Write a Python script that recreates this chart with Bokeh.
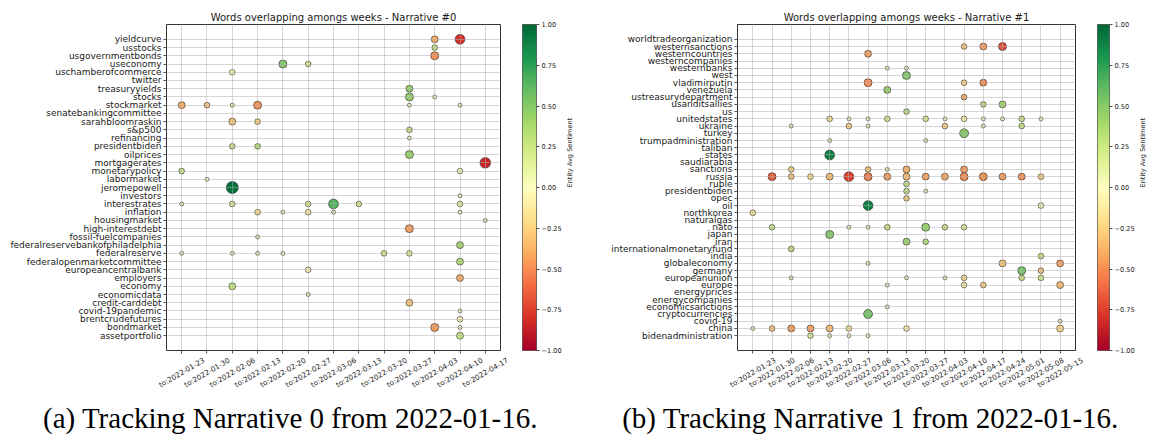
import math
import numpy as np
from bokeh.plotting import figure
from bokeh.layouts import column, row
from bokeh.models import (Range1d, FixedTicker, LinearColorMapper, CustomJSTickFormatter,
                          ColumnDataSource, Label)
from bokeh.transform import transform
from bokeh.core.properties import value
from bokeh.embed import file_html
from bokeh.resources import INLINE

# ---------------- data: narrative 0 ----------------
weeks_a = ["01-23", "01-30", "02-06", "02-13", "02-20", "02-27", "03-06",
           "03-13", "03-20", "03-27", "04-03", "04-10", "04-17"]
words_a = ["assetportfolio", "bondmarket", "brentcrudefutures", "covid-19pandemic",
           "credit-carddebt", "economicdata", "economy", "employers",
           "europeancentralbank", "federalopenmarketcommittee", "federalreserve",
           "federalreservebankofphiladelphia", "fossil-fuelcompanies", "high-interestdebt",
           "housingmarket", "inflation", "interestrates", "investors", "jeromepowell",
           "labormarket", "monetarypolicy", "mortgagerates", "oilprices", "presidentbiden",
           "refinancing", "s&p500", "sarahbloomraskin", "senatebankingcommittee",
           "stockmarket", "stocks", "treasuryyields", "twitter", "uschamberofcommerce",
           "useconomy", "usgovernmentbonds", "usstocks", "yieldcurve"]

a_word = ["yieldcurve", "yieldcurve", "usstocks", "usgovernmentbonds", "useconomy", "useconomy",
          "uschamberofcommerce", "treasuryyields", "stocks", "stocks",
          "stockmarket", "stockmarket", "stockmarket", "stockmarket", "stockmarket", "stockmarket",
          "sarahbloomraskin", "sarahbloomraskin", "s&p500", "refinancing",
          "presidentbiden", "presidentbiden", "oilprices", "mortgagerates",
          "monetarypolicy", "monetarypolicy", "labormarket", "jeromepowell", "investors",
          "interestrates", "interestrates", "interestrates", "interestrates", "interestrates", "interestrates",
          "inflation", "inflation", "inflation", "inflation", "inflation",
          "housingmarket", "high-interestdebt", "fossil-fuelcompanies",
          "federalreservebankofphiladelphia",
          "federalreserve", "federalreserve", "federalreserve", "federalreserve", "federalreserve", "federalreserve",
          "federalopenmarketcommittee", "europeancentralbank", "employers", "economy", "economicdata",
          "credit-carddebt", "covid-19pandemic", "brentcrudefutures", "bondmarket", "bondmarket",
          "assetportfolio"]
a_week = ["04-03", "04-10", "04-03", "04-03", "02-20", "02-27",
          "02-06", "03-27", "03-27", "04-03",
          "01-23", "01-30", "02-06", "02-13", "03-27", "04-10",
          "02-06", "02-13", "03-27", "03-27",
          "02-06", "02-13", "03-27", "04-17",
          "01-23", "04-10", "01-30", "02-06", "04-10",
          "01-23", "02-06", "02-27", "03-06", "03-13", "04-10",
          "02-13", "02-20", "02-27", "03-06", "04-10",
          "04-17", "03-27", "02-13",
          "04-10",
          "01-23", "02-06", "02-13", "02-20", "03-20", "03-27",
          "04-10", "02-27", "04-10", "02-06", "02-27",
          "03-27", "04-10", "04-10", "04-03", "04-10",
          "04-10"]
a_sent = [-0.40, -0.80, 0.25, -0.50, 0.50, 0.22,
          -0.05, 0.45, 0.45, 0.00,
          -0.40, -0.30, 0.05, -0.50, 0.00, 0.00,
          -0.30, -0.25, 0.25, 0.00,
          0.25, 0.30, 0.45, -0.85,
          0.25, 0.05, 0.00, 0.95, 0.00,
          0.05, 0.20, 0.20, 0.65, 0.20, 0.10,
          -0.20, 0.00, -0.10, 0.00, 0.00,
          0.00, -0.45, 0.00,
          0.40,
          0.00, 0.00, 0.00, 0.00, 0.20, 0.15,
          0.35, -0.05, -0.40, 0.30, 0.00,
          -0.30, 0.00, -0.05, -0.45, 0.00,
          0.25]
a_count = [3, 6, 2, 4, 4, 2,
           2, 3, 4, 1,
           3, 2, 1, 4, 1, 1,
           3, 2, 2, 1,
           2, 2, 4, 7,
           2, 2, 1, 9, 1,
           1, 2, 2, 6, 2, 2,
           2, 1, 2, 1, 1,
           1, 4, 1,
           3,
           1, 1, 1, 1, 2, 2,
           3, 2, 3, 3, 1,
           3, 1, 2, 4, 1,
           3]

# ---------------- data: narrative 1 ----------------
weeks_b = ["01-23", "01-30", "02-06", "02-13", "02-20", "02-27", "03-06", "03-13", "03-20",
           "03-27", "04-03", "04-10", "04-17", "04-24", "05-01", "05-08", "05-15"]
words_b = ["bidenadministration", "china", "covid-19", "cryptocurrencies", "economicsanctions",
           "energycompanies", "energyprices", "europe", "europeanunion", "germany",
           "globaleconomy", "india", "internationalmonetaryfund", "iran", "japan", "nato",
           "naturalgas", "northkorea", "oil", "opec", "presidentbiden", "ruble", "russia",
           "sanctions", "saudiarabia", "states", "taliban", "trumpadministration", "turkey",
           "ukraine", "unitedstates", "us", "usanditsallies", "ustreasurydepartment",
           "venezuela", "vladimirputin", "west", "westernbanks", "westerncompanies",
           "westerncountries", "westernsanctions", "worldtradeorganization"]

b_word = (["westernsanctions"] * 3 + ["westerncountries"] + ["westernbanks"] * 2 + ["west"]
          + ["vladimirputin"] * 3 + ["venezuela", "ustreasurydepartment"] + ["usanditsallies"] * 2
          + ["us"] + ["unitedstates"] * 11 + ["ukraine"] * 6 + ["turkey"]
          + ["trumpadministration"] * 2 + ["states"] + ["sanctions"] * 5 + ["russia"] * 15
          + ["ruble"] + ["presidentbiden"] * 2 + ["opec"] + ["oil"] * 2 + ["northkorea"]
          + ["nato"] * 7 + ["japan"] + ["iran"] * 2 + ["internationalmonetaryfund", "india"]
          + ["globaleconomy"] * 3 + ["germany"] * 2 + ["europeanunion"] * 6 + ["europe"] * 4
          + ["economicsanctions", "cryptocurrencies", "covid-19"] + ["china"] * 8
          + ["bidenadministration"] * 4)
b_week = ["04-10", "04-17", "04-24", "03-06", "03-13", "03-20", "03-20",
          "03-06", "04-10", "04-17", "03-13", "04-10", "04-17", "04-24",
          "03-20",
          "02-20", "02-27", "03-06", "03-13", "03-27", "04-03", "04-10", "04-17", "04-24", "05-01", "05-08",
          "02-06", "02-27", "03-06", "04-03", "04-17", "05-01",
          "04-10",
          "02-20", "03-27",
          "02-20",
          "02-06", "03-06", "03-13", "03-20", "04-10",
          "01-30", "02-06", "02-13", "02-20", "02-27", "03-06", "03-13", "03-20", "03-27", "04-03",
          "04-10", "04-17", "04-24", "05-01", "05-08",
          "03-20", "03-20", "03-27", "03-20", "03-06", "05-08", "01-23",
          "01-30", "02-27", "03-06", "03-13", "03-27", "04-03", "04-10",
          "02-20", "03-20", "03-27", "02-06", "05-08",
          "03-06", "04-24", "05-15", "05-01", "05-08",
          "02-06", "03-20", "04-03", "04-10", "05-01", "05-08",
          "03-13", "04-10", "04-17", "05-15",
          "03-13", "03-06", "05-15",
          "01-23", "01-30", "02-06", "02-13", "02-20", "02-27", "03-20", "05-15",
          "02-13", "02-20", "02-27", "03-06"]
b_sent = [-0.30, -0.45, -0.70, -0.45, 0.00, 0.00, 0.50,
          -0.50, -0.25, -0.50, 0.45, -0.40, 0.30, 0.40,
          0.30,
          -0.20, 0.00, 0.00, 0.20, 0.20, 0.00, -0.10, 0.00, 0.00, 0.25, 0.00,
          0.00, -0.25, 0.00, -0.25, 0.00, 0.25,
          0.50,
          0.00, 0.00,
          0.90,
          -0.25, -0.30, 0.00, -0.40, -0.45,
          -0.65, -0.30, -0.20, -0.35, -0.75, -0.55, -0.45, -0.35, -0.45, -0.40,
          -0.50, -0.50, -0.45, -0.50, -0.25,
          0.25, 0.30, 0.00, -0.30, 0.90, 0.05, -0.15,
          0.25, 0.00, 0.00, 0.25, 0.45, 0.25, 0.20,
          0.50, 0.45, 0.35, 0.30, 0.25,
          0.00, -0.30, -0.45, 0.55, -0.30,
          0.00, 0.00, 0.00, -0.20, 0.25, 0.20,
          0.00, -0.10, -0.25, -0.35,
          0.00, 0.55, 0.00,
          0.00, -0.30, -0.45, -0.45, -0.35, -0.15, -0.10, -0.20,
          0.20, 0.00, 0.00, 0.00]
b_count = [2, 3, 4, 3, 1, 1, 4,
           4, 2, 3, 3, 2, 2, 3,
           2,
           2, 1, 1, 2, 2, 1, 2, 1, 1, 2, 1,
           1, 2, 1, 2, 1, 2,
           5,
           1, 1,
           6,
           2, 2, 1, 3, 3,
           4, 2, 2, 3, 6, 4, 3, 3, 3, 3,
           4, 4, 3, 3, 2,
           2, 2, 1, 2, 6, 2, 2,
           2, 1, 1, 2, 4, 2, 2,
           4, 3, 2, 2, 2,
           1, 3, 3, 4, 2,
           1, 1, 1, 2, 2, 2,
           1, 2, 2, 3,
           1, 5, 1,
           1, 2, 3, 3, 3, 2, 2, 3,
           2, 1, 1, 1]

title_a = "Words overlapping amongs weeks - Narrative #0"
title_b = "Words overlapping amongs weeks - Narrative #1"
caption_a = "(a) Tracking Narrative 0 from 2022-01-16."
caption_b = "(b) Tracking Narrative 1 from 2022-01-16."
cbar_label = "Entity Avg Sentiment"
cbar_ticks = [-1.0, -0.75, -0.5, -0.25, 0.0, 0.25, 0.5, 0.75, 1.0]

# ---------------- styling ----------------
anchors = ["#a50026", "#d73027", "#f46d43", "#fdae61", "#fee08b", "#ffffbf",
           "#d9ef8b", "#a6d96a", "#66bd63", "#1a9850", "#006837"]


def build_palette(hexes, n=256):
    rgb = np.array([[int(h[i:i + 2], 16) for i in (1, 3, 5)] for h in hexes], dtype=float)
    pos = np.linspace(0, 1, len(hexes))
    t = np.linspace(0, 1, n)
    out = []
    for tt in t:
        c = [np.interp(tt, pos, rgb[:, k]) for k in range(3)]
        out.append("#%02x%02x%02x" % tuple(int(round(v)) for v in c))
    return out


palette = build_palette(anchors)
mapper = LinearColorMapper(palette=palette, low=-1, high=1)

FONT = "DejaVu Sans"
TXT = "#1a1a1a"
TOP_H = 354      # height of the plot row (frame bottom at 351 + tick marks)
LAB_H = 46       # strip that holds the rotated week labels
CAP_H = 439 - TOP_H - LAB_H


def style_ticks(ax):
    ax.axis_line_color = None
    ax.major_tick_out = 3
    ax.major_tick_in = 0
    ax.major_tick_line_color = "#222222"
    ax.major_tick_line_width = 0.8
    ax.minor_tick_line_color = None


def panel(words, weeks, pw, pk, ps, pc, title, width, left, top, bottom_px):
    n_x = len(weeks) - 1
    n_y = len(words) - 1
    x0, x1 = -0.05 * n_x, n_x * 1.05
    y0, y1 = -0.05 * n_y, n_y * 1.05
    p = figure(width=width, height=TOP_H, output_backend="svg", toolbar_location=None,
               x_range=Range1d(x0, x1), y_range=Range1d(y0, y1),
               min_border_left=left, min_border_right=2, min_border_top=top,
               min_border_bottom=TOP_H - bottom_px, title=title)
    p.title.text_font = FONT
    p.title.text_font_size = "10px"
    p.title.text_font_style = "normal"
    p.title.text_color = TXT
    p.title.align = "center"
    p.title.standoff = 3
    p.background_fill_color = "white"
    p.border_fill_color = "white"
    p.outline_line_color = "#333333"
    p.outline_line_width = 1

    src = ColumnDataSource(dict(
        x=[weeks.index(k) for k in pk],
        y=[words.index(w) for w in pw],
        sent=ps,
        size=[4.0 * math.sqrt(c) for c in pc],
    ))
    p.scatter(x="x", y="y", size="size", source=src, fill_color=transform("sent", mapper),
              line_color="#222222", line_width=0.6)

    xa = p.xaxis[0]
    xa.ticker = FixedTicker(ticks=list(range(len(weeks))))
    xa.major_label_overrides = {i: "" for i in range(len(weeks))}
    xa.major_label_text_color = None
    xa.major_label_text_font_size = "0px"
    xa.major_label_standoff = 0
    style_ticks(xa)

    ya = p.yaxis[0]
    ya.ticker = FixedTicker(ticks=list(range(len(words))))
    ya.major_label_overrides = {i: w for i, w in enumerate(words)}
    ya.major_label_text_font = FONT
    ya.major_label_text_font_size = "9px"
    ya.major_label_text_color = TXT
    ya.major_label_standoff = 2
    style_ticks(ya)
    for g in (p.xgrid[0], p.ygrid[0]):
        g.grid_line_color = "#b0b0b0"
        g.grid_line_alpha = 0.65
        g.grid_line_width = 0.8
        g.level = "overlay"
    p.xgrid[0].ticker = xa.ticker
    p.ygrid[0].ticker = ya.ticker
    return p, (x0, x1)


def week_labels(weeks, xr, left, frame_w, width):
    """Strip under a panel with the same x scale; labels centred on their ticks."""
    x0, x1 = xr
    ppu = frame_w / (x1 - x0)
    s = figure(width=width, height=LAB_H, output_backend="svg", toolbar_location=None,
               x_range=Range1d(x0 - left / ppu, x0 + (width - left) / ppu),
               y_range=Range1d(0, LAB_H), min_border=0)
    s.axis.visible = False
    s.grid.visible = False
    s.outline_line_color = None
    s.background_fill_color = "white"
    s.border_fill_color = "white"
    src = ColumnDataSource(dict(x=list(range(len(weeks))), y=[LAB_H - 18] * len(weeks),
                                t=["to:2022-" + d for d in weeks]))
    s.text(x="x", y="y", text="t", source=src, angle=math.pi / 6, text_align="center",
           text_baseline="middle", text_font=value(FONT), text_font_size=value("7.2px"),
           text_color=TXT)
    return s


def colorbar(width, left, bar_w, top, bottom_px):
    c = figure(width=width, height=TOP_H, output_backend="svg", toolbar_location=None,
               x_range=Range1d(0, 1), y_range=Range1d(-1, 1),
               x_axis_location=None, y_axis_location="right",
               min_border_left=left, min_border_right=width - left - bar_w,
               min_border_top=top, min_border_bottom=TOP_H - bottom_px)
    c.background_fill_color = "white"
    c.border_fill_color = "white"
    c.outline_line_color = "#333333"
    c.outline_line_width = 0.8
    c.grid.visible = False
    grad = np.linspace(-1, 1, 256).reshape(256, 1)
    c.image(image=[grad], x=0, y=-1, dw=1, dh=2, color_mapper=mapper)
    ax = c.yaxis[0]
    ax.ticker = FixedTicker(ticks=cbar_ticks)
    ax.formatter = CustomJSTickFormatter(
        code="return (tick < 0 ? '\u2212' : '') + Math.abs(tick).toFixed(2);")
    ax.major_label_text_font = FONT
    ax.major_label_text_font_size = "6.6px"
    ax.major_label_text_color = TXT
    ax.major_label_standoff = 2
    style_ticks(ax)
    ax.axis_label = cbar_label
    ax.axis_label_text_font = FONT
    ax.axis_label_text_font_size = "6.6px"
    ax.axis_label_text_font_style = "normal"
    ax.axis_label_text_color = TXT
    ax.axis_label_standoff = 5
    if "axis_label_orientation" in ax.properties():
        ax.axis_label_orientation = math.pi / 2
    return c


pA, xrA = panel(words_a, weeks_a, a_word, a_week, a_sent, a_count, title_a,
                width=502, left=166, top=24, bottom_px=351)
cA = colorbar(width=78, left=20, bar_w=16, top=24, bottom_px=350)
pB, xrB = panel(words_b, weeks_b, b_word, b_week, b_sent, b_count, title_b,
                width=497, left=157, top=20, bottom_px=351)
cB = colorbar(width=76, left=20, bar_w=17, top=20, bottom_px=351)

lA = week_labels(weeks_a, xrA, left=166, frame_w=502 - 166 - 2, width=580)
lB = week_labels(weeks_b, xrB, left=157, frame_w=497 - 157 - 2, width=573)

cap = figure(width=1153, height=CAP_H, output_backend="svg", toolbar_location=None,
             x_range=Range1d(0, 1153), y_range=Range1d(0, CAP_H), min_border=0)
cap.axis.visible = False
cap.grid.visible = False
cap.outline_line_color = None
cap.background_fill_color = "white"
cap.border_fill_color = "white"
for txt, cx in ((caption_a, 290), (caption_b, 870)):
    cap.add_layout(Label(x=cx, y=22, text=txt, text_align="center", text_baseline="alphabetic",
                         text_font="Liberation Serif", text_font_size="29px", text_color="black"))

layout = column(row(pA, cA, pB, cB), row(lA, lB), cap)
with open("out.html", "w", encoding="utf-8") as f:
    f.write(file_html(layout, INLINE))
